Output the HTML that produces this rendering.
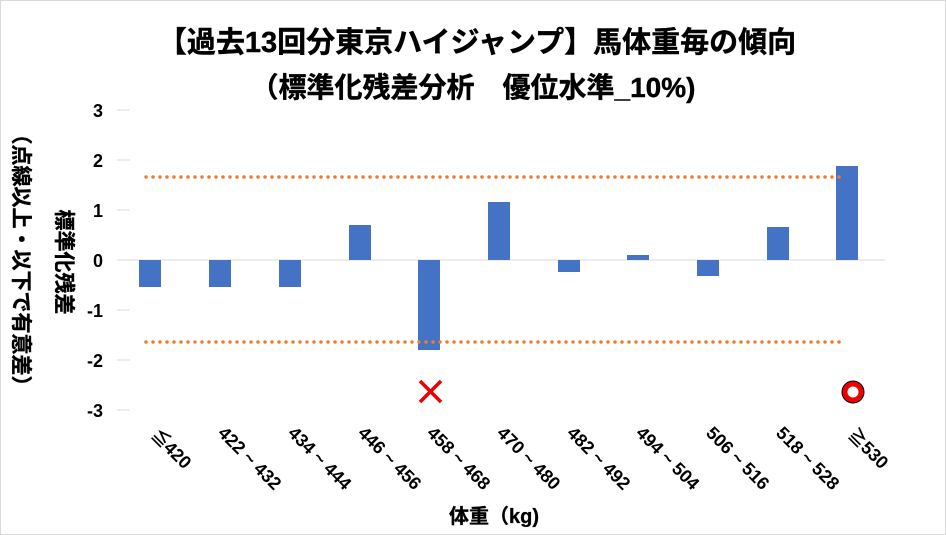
<!DOCTYPE html>
<html><head><meta charset="utf-8"><style>
html,body{margin:0;padding:0;background:#fff}
svg{display:block}
text{font-family:"Liberation Sans","Noto Sans CJK JP",sans-serif;font-weight:bold;fill:#000}
</style></head><body>
<svg width="946" height="535" viewBox="0 0 946 535" xmlns="http://www.w3.org/2000/svg">
<rect x="0.5" y="0.5" width="945" height="534" fill="#fff" stroke="#d9d9d9"/>
<text x="477" y="52" font-size="29" text-anchor="middle" stroke="#000" stroke-width="0.4">【過去13回分東京ハイジャンプ】馬体重毎の傾向</text>
<text x="473" y="97" font-size="28" text-anchor="middle" stroke="#000" stroke-width="0.4">（標準化残差分析　優位水準_10%)</text>
<g stroke="#d9d9d9" stroke-width="1">
<line x1="117" y1="110" x2="130" y2="110"/><line x1="117" y1="160" x2="130" y2="160"/>
<line x1="117" y1="210" x2="130" y2="210"/><line x1="117" y1="260" x2="130" y2="260"/>
<line x1="117" y1="310" x2="130" y2="310"/><line x1="117" y1="360" x2="130" y2="360"/>
<line x1="117" y1="410" x2="130" y2="410"/>
<line x1="117" y1="260" x2="885" y2="260"/>
</g>
<g font-size="18" text-anchor="end">
<text x="103" y="117">3</text><text x="103" y="167">2</text><text x="103" y="217">1</text>
<text x="103" y="267">0</text><text x="103" y="317">-1</text><text x="103" y="367">-2</text><text x="103" y="417">-3</text>
</g>
<text transform="translate(57,262) rotate(90)" font-size="21" text-anchor="middle" stroke="#000" stroke-width="0.4">標準化残差</text>
<text transform="translate(14,260) rotate(90)" font-size="21" text-anchor="middle" stroke="#000" stroke-width="0.4">（点線以上・以下で有意差）</text>
<g fill="#4472c4">
<rect x="139" y="260" width="22" height="27"/>
<rect x="209" y="260" width="22" height="27"/>
<rect x="279" y="260" width="22" height="27"/>
<rect x="349" y="225" width="22" height="35"/>
<rect x="418" y="260" width="22" height="90"/>
<rect x="488" y="202" width="22" height="58"/>
<rect x="558" y="260" width="22" height="12"/>
<rect x="627" y="255" width="22" height="5"/>
<rect x="697" y="260" width="22" height="16"/>
<rect x="767" y="227" width="22" height="33"/>
<rect x="836" y="166" width="22" height="94"/>
</g>
<g stroke="#ed7d31" stroke-width="3.5" stroke-dasharray="0,7" stroke-linecap="round">
<line x1="146" y1="177" x2="846" y2="177"/>
<line x1="146" y1="342" x2="846" y2="342"/>
</g>
<g stroke="#e00" stroke-width="3.5"><line x1="420" y1="381" x2="441" y2="402"/><line x1="441" y1="381" x2="420" y2="402"/></g>
<circle cx="853" cy="392" r="11" fill="#e00" stroke="#000" stroke-width="1"/>
<circle cx="853" cy="392" r="5.5" fill="#fff"/>
<g font-size="18">
<text transform="translate(150,436) rotate(45)">≦420</text>
<text transform="translate(217,434) rotate(45)">422 ~ 432</text>
<text transform="translate(287,434) rotate(45)">434 ~ 444</text>
<text transform="translate(357,434) rotate(45)">446 ~ 456</text>
<text transform="translate(426,434) rotate(45)">458 ~ 468</text>
<text transform="translate(496,434) rotate(45)">470 ~ 480</text>
<text transform="translate(566,434) rotate(45)">482 ~ 492</text>
<text transform="translate(635,434) rotate(45)">494 ~ 504</text>
<text transform="translate(705,434) rotate(45)">506 ~ 516</text>
<text transform="translate(775,434) rotate(45)">518 ~ 528</text>
<text transform="translate(847,436) rotate(45)">≧530</text>
</g>
<text x="494" y="523" font-size="20" text-anchor="middle" stroke="#000" stroke-width="0.3">体重（kg)</text>
</svg>
</body></html>
